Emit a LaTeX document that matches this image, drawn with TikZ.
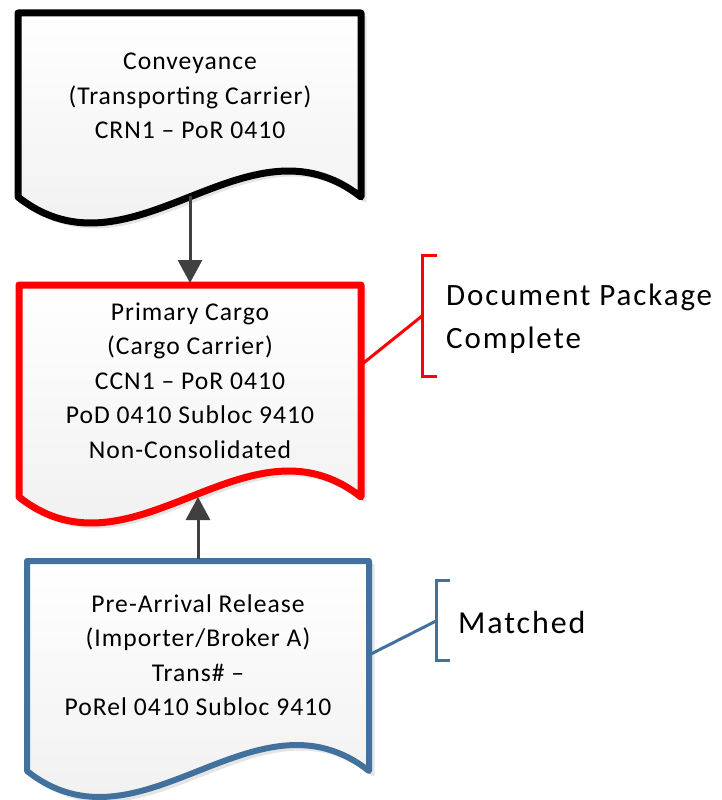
\documentclass[tikz,border=0pt]{standalone}
\usepackage{fontspec}
\setmainfont{Carlito}
\usetikzlibrary{arrows.meta}
\definecolor{boxblue}{HTML}{41719C}
\definecolor{arrowgray}{HTML}{404040}
\definecolor{docred}{HTML}{FF0000}
% document shape: left, right, top, bottom-corner
\newcommand\mydocpath[4]{(#1,#3) -- (#1,#4) .. controls ({#1+(#2-#1)/3},{#4+90}) and ({#1+2*(#2-#1)/3},{#4-90}) .. (#2,#4) -- (#2,#3) -- cycle}
\begin{document}
\begin{tikzpicture}[x=1pt,y=-1pt,
  docshape/.style={line join=round, top color=white, bottom color=black!7},
  docshadow/.style={fill=black!10, draw=black!10, line width=3pt, line join=round},
  boxtext/.style={align=center, inner sep=0pt, font=\fontsize{25.6}{34.5}\selectfont\addfontfeature{LetterSpace=4}},
  notetext/.style={align=left, inner sep=0pt, font=\fontsize{31}{43}\selectfont\addfontfeature{LetterSpace=6}},
  flow/.style={draw=arrowgray, line width=3pt, -{Triangle[width=24pt,length=23pt]}},
  bracketline/.style={line width=3pt, line cap=butt, line join=miter}
]
\useasboundingbox (0,0) rectangle (722,800);

% shadows
\begin{scope}[xshift=4pt, yshift=-4pt]
  \path[docshadow] \mydocpath{18}{361}{13}{197};
  \path[docshadow] \mydocpath{19}{361}{285}{497};
  \path[docshadow] \mydocpath{27}{369}{561}{771};
\end{scope}

% boxes
\path[docshape, draw=black, line width=7pt] \mydocpath{18}{361}{13}{197};
\path[docshape, draw=docred, line width=7pt] \mydocpath{19}{361}{285}{497};
\path[docshape, draw=boxblue, line width=6pt] \mydocpath{27}{369}{561}{771};

\node[boxtext] (conv) at (190,96) {Conveyance\\(Transporting Carrier)\\CRN1 – PoR 0410};
\node[boxtext] (prim) at (190,380.5) {Primary Cargo\\(Cargo Carrier)\\CCN1 – PoR 0410\\PoD 0410 Subloc 9410\\Non-Consolidated};
\node[boxtext] (pre) at (198,655) {Pre-Arrival Release\\(Importer/Broker A)\\Trans\# –\\PoRel 0410 Subloc 9410};

% connector anchor points
\coordinate (convBot) at (190,196);
\coordinate (primTop) at (190,283);
\coordinate (preTop) at (198,559);
\coordinate (primBot) at (198,497);

\draw[flow] (convBot) -- (primTop);
\draw[flow] (preTop) -- (primBot);

% annotations
\coordinate (primSide) at (361,365);
\coordinate (docMid) at (422,316);
\draw[docred, line width=3pt] (primSide) -- (docMid);
\draw[docred, bracketline] (437,255) -- (422,255) -- (422,376) -- (437,376);
\node[notetext, anchor=west] (doc) at (446,318.7) {Document Package\\Complete};

\coordinate (preSide) at (369,655);
\coordinate (matchMid) at (436,621);
\draw[boxblue, line width=3pt] (preSide) -- (matchMid);
\draw[boxblue, bracketline] (450,580) -- (436,580) -- (436,660) -- (450,660);
\node[notetext, font=\fontsize{32}{43}\selectfont\addfontfeature{LetterSpace=6}, anchor=base west] (match) at (458,633) {Matched};
\end{tikzpicture}
\end{document}
